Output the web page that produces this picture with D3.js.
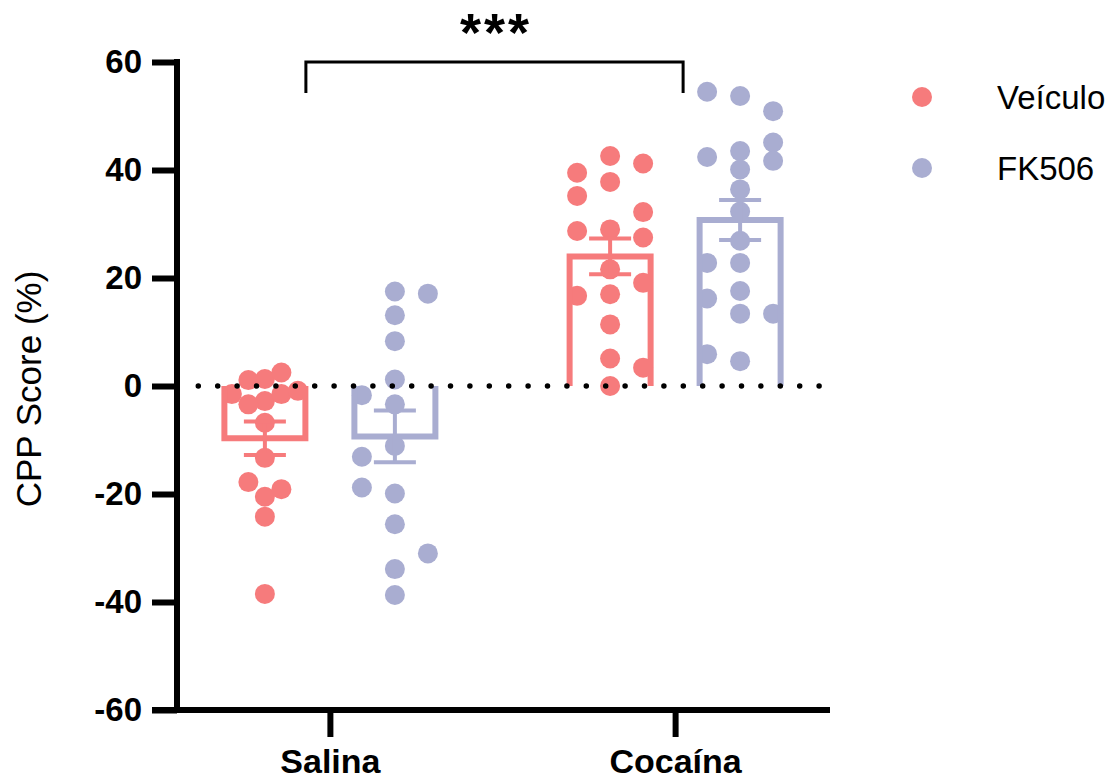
<!DOCTYPE html>
<html>
<head>
<meta charset="utf-8">
<script src="https://cdn.jsdelivr.net/npm/d3@7"></script>
<style>
  body { margin: 0; background: #fff; }
  svg { display: block; }
  text { font-family: "Liberation Sans", Arial, sans-serif; fill: #000; }
</style>
</head>
<body>
<script>
const width = 1118;
const height = 780;

const categories = ["Salina", "Cocaína"];
const seriesNames = ["Veículo", "FK506"];
const seriesColors = ["#F67B7C", "#A9ADD1"];
const yTicks = [-60, -40, -20, 0, 20, 40, 60];

// individual CPP scores (%) per group
const veiculoSalina = [1.3, -2.8, -6.8, -13.3, -20.5, -24.2, -38.5, 1.1, -1.5, -3.4, -19.1, -17.8, 2.5, -1.5, -0.9];
const fk506Salina = [17.5, 13.1, 8.3, 1.2, -11.1, -19.9, -25.6, -33.9, -38.7, -1.7, 17.1, -13.1, -31.0, -18.8, -3.4];
const veiculoCocaina = [42.6, 37.8, 29.0, 17.0, 11.4, 5.1, 39.5, 41.2, 35.2, 32.2, 28.7, 27.5, 16.7, 3.4, 19.1, 21.6, 0.0];
const fk506Cocaina = [53.7, 43.5, 40.1, 32.3, 26.9, 22.8, 13.4, 4.6, 54.5, 50.9, 42.4, 45.1, 41.7, 36.4, 22.8, 17.6, 16.2, 13.4, 5.9];

const groups = [
  { cat: "Salina", series: "Veículo", values: veiculoSalina },
  { cat: "Salina", series: "FK506", values: fk506Salina },
  { cat: "Cocaína", series: "Veículo", values: veiculoCocaina },
  { cat: "Cocaína", series: "FK506", values: fk506Cocaina }
];

const svg = d3.select("body")
  .append("svg")
  .attr("width", width)
  .attr("height", height);

const y = d3.scaleLinear().domain([-60, 60]).range([710, 62]);
const x = d3.scalePoint().domain(categories).range([178, 827]).padding(0.44);
const xs = d3.scalePoint().domain(seriesNames).range([-65, 65]);
const color = d3.scaleOrdinal().domain(seriesNames).range(seriesColors);

const r = 10;
const minGap = 18;     // px, same-column spacing before points are pushed aside
const halfSpread = 33; // px, outermost column offset

// simple column swarm: nearest free column, balanced left/right
function swarm(values) {
  const placed = [];
  const counts = new Map();
  values.forEach(v => {
    const py = y(v);
    const cands = [];
    for (let k = 0; k <= 6; k++) {
      if (k === 0) cands.push(0); else cands.push(-k, k);
    }
    cands.sort((a, b) => Math.abs(a) - Math.abs(b) ||
      (counts.get(a) || 0) - (counts.get(b) || 0) || a - b);
    const slot = cands.find(s => !placed.some(p => p.slot === s && Math.abs(p.py - py) < minGap));
    counts.set(slot, (counts.get(slot) || 0) + 1);
    placed.push({ v, py, slot });
  });
  const k = d3.max(placed, p => Math.abs(p.slot)) || 1;
  placed.forEach(p => p.dx = p.slot * halfSpread / k);
  return placed;
}

groups.forEach(g => {
  g.cx = x(g.cat) + xs(g.series);
  g.mean = d3.mean(g.values);
  g.sem = d3.deviation(g.values) / Math.sqrt(g.values.length);
  g.points = swarm(g.values);
});

// points
const pts = svg.append("g");
groups.forEach(g => {
  pts.selectAll(null)
    .data(g.points)
    .enter()
    .append("circle")
    .attr("cx", d => g.cx + d.dx)
    .attr("cy", d => d.py)
    .attr("r", r)
    .attr("fill", color(g.series));
});

// bars (open at the baseline)
const barHalf = 40.5;
svg.append("g")
  .selectAll("path")
  .data(groups)
  .enter()
  .append("path")
  .attr("d", g => `M${g.cx - barHalf},${y(0)}V${y(g.mean)}H${g.cx + barHalf}V${y(0)}`)
  .attr("fill", "none")
  .attr("stroke", g => color(g.series))
  .attr("stroke-width", 6)
  .attr("stroke-linejoin", "miter");

// error bars (mean ± SEM)
const capHalf = 21;
const eb = svg.append("g")
  .selectAll("g")
  .data(groups)
  .enter()
  .append("g")
  .attr("stroke", g => color(g.series))
  .attr("stroke-width", 4);
eb.append("line")
  .attr("x1", g => g.cx).attr("x2", g => g.cx)
  .attr("y1", g => y(g.mean + g.sem)).attr("y2", g => y(g.mean - g.sem));
eb.append("line")
  .attr("x1", g => g.cx - capHalf).attr("x2", g => g.cx + capHalf)
  .attr("y1", g => y(g.mean + g.sem)).attr("y2", g => y(g.mean + g.sem));
eb.append("line")
  .attr("x1", g => g.cx - capHalf).attr("x2", g => g.cx + capHalf)
  .attr("y1", g => y(g.mean - g.sem)).attr("y2", g => y(g.mean - g.sem));

// dotted zero line
svg.append("line")
  .attr("x1", 198.3).attr("x2", 820)
  .attr("y1", y(0)).attr("y2", y(0))
  .attr("stroke", "#000")
  .attr("stroke-width", 5.5)
  .attr("stroke-linecap", "round")
  .attr("stroke-dasharray", "0 19.4");

// y axis
const yAxis = svg.append("g")
  .attr("transform", "translate(177,0)")
  .call(d3.axisLeft(y).tickValues(yTicks).tickFormat(d => String(d))
    .tickSize(25).tickSizeOuter(0).tickPadding(10));
yAxis.select(".domain").remove();
yAxis.selectAll(".tick line").attr("stroke", "#000").attr("stroke-width", 6);
yAxis.selectAll(".tick text")
  .style("font-size", "33px")
  .style("font-weight", "bold")
  .style("font-family", "'Liberation Sans', Arial, sans-serif");

svg.append("line")
  .attr("x1", 177).attr("x2", 177)
  .attr("y1", y(60) - 3).attr("y2", y(-60) + 3)
  .attr("stroke", "#000").attr("stroke-width", 6);

// x axis
const xAxis = svg.append("g")
  .attr("transform", `translate(0,${y(-60)})`)
  .call(d3.axisBottom(x).tickSize(27).tickSizeOuter(0));
xAxis.select(".domain").remove();
xAxis.selectAll(".tick line").attr("stroke", "#000").attr("stroke-width", 6);
xAxis.selectAll(".tick text")
  .attr("y", 63)
  .attr("dy", null)
  .style("font-size", "34px")
  .style("font-weight", "bold")
  .style("font-family", "'Liberation Sans', Arial, sans-serif");

svg.append("line")
  .attr("x1", 152).attr("x2", 830)
  .attr("y1", y(-60)).attr("y2", y(-60))
  .attr("stroke", "#000").attr("stroke-width", 6);

// y axis title
svg.append("text")
  .attr("transform", `translate(41,${y(0) + 3}) rotate(-90)`)
  .attr("text-anchor", "middle")
  .style("font-size", "35px")
  .text("CPP Score (%)");

// significance bracket
const bx0 = x("Salina") - 24;
const bx1 = x("Cocaína") + 8;
svg.append("path")
  .attr("d", `M${bx0},93V62H${bx1}V93`)
  .attr("fill", "none")
  .attr("stroke", "#000")
  .attr("stroke-width", 3);
svg.append("text")
  .attr("x", (bx0 + bx1) / 2 + 1.5)
  .attr("y", 51)
  .attr("text-anchor", "middle")
  .style("font-size", "54px")
  .style("font-weight", "bold")
  .style("letter-spacing", "3px")
  .text("***");

// legend
const legend = svg.append("g")
  .selectAll("g")
  .data(seriesNames)
  .enter()
  .append("g")
  .attr("transform", (d, i) => `translate(922,${97 + i * 71})`);
legend.append("circle")
  .attr("r", r)
  .attr("fill", d => color(d));
legend.append("text")
  .attr("x", 75)
  .attr("y", 12)
  .style("font-size", "33px")
  .text(d => d);
</script>
</body>
</html>
